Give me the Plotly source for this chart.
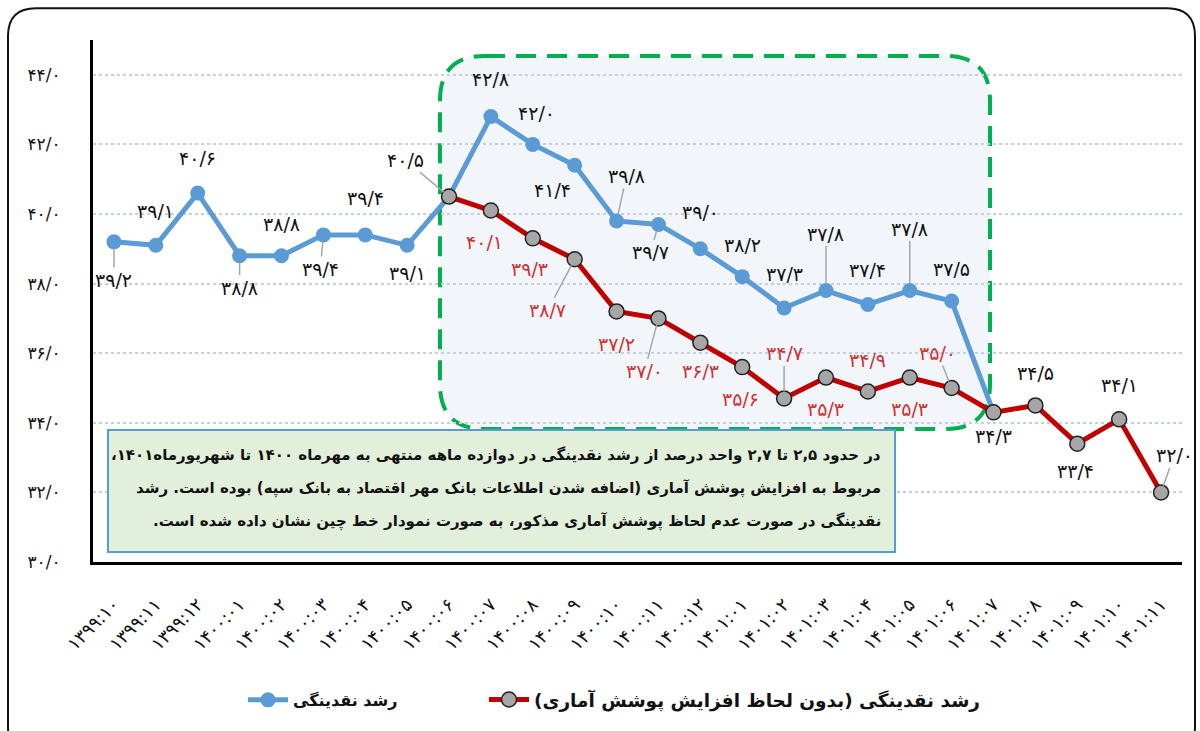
import plotly.graph_objects as go

# ---------------- data ----------------
categories = ["۱۳۹۹:۱۰", "۱۳۹۹:۱۱", "۱۳۹۹:۱۲",
              "۱۴۰۰:۰۱", "۱۴۰۰:۰۲", "۱۴۰۰:۰۳", "۱۴۰۰:۰۴", "۱۴۰۰:۰۵", "۱۴۰۰:۰۶",
              "۱۴۰۰:۰۷", "۱۴۰۰:۰۸", "۱۴۰۰:۰۹", "۱۴۰۰:۱۰", "۱۴۰۰:۱۱", "۱۴۰۰:۱۲",
              "۱۴۰۱:۰۱", "۱۴۰۱:۰۲", "۱۴۰۱:۰۳", "۱۴۰۱:۰۴", "۱۴۰۱:۰۵", "۱۴۰۱:۰۶",
              "۱۴۰۱:۰۷", "۱۴۰۱:۰۸", "۱۴۰۱:۰۹", "۱۴۰۱:۱۰", "۱۴۰۱:۱۱"]

blue_name = "رشد نقدینگی"
blue_values = [39.2, 39.1, 40.6, 38.8, 38.8, 39.4, 39.4, 39.1, 40.5, 42.8, 42.0,
               41.4, 39.8, 39.7, 39.0, 38.2, 37.3, 37.8, 37.4, 37.8, 37.5, 34.3]

red_name = "رشد نقدینگی (بدون لحاظ افزایش پوشش آماری)"
red_start = 8
red_values = [40.5, 40.1, 39.3, 38.7, 37.2, 37.0, 36.3, 35.6, 34.7, 35.3, 34.9,
              35.3, 35.0, 34.3, 34.5, 33.4, 34.1, 32.0]

y_ticks = [30, 32, 34, 36, 38, 40, 42, 44]

note_lines = [
    "در حدود ۲,۵ تا ۲,۷ واحد درصد از رشد نقدینگی در دوازده ماهه منتهی به مهرماه ۱۴۰۰ تا شهریورماه۱۴۰۱،",
    "مربوط به افزایش پوشش آماری (اضافه شدن اطلاعات بانک مهر اقتصاد به بانک سپه) بوده است. رشد",
    "نقدینگی در صورت عدم لحاظ پوشش آماری مذکور، به صورت نمودار خط چین نشان داده شده است.",
]

# label placement (pixel offsets from point, leader line flag) -- styling only
blue_label_pos = [(0, 38, True), (0, -34, False), (0, -35, False), (0, 32, True),
                  (0, -32, False), (-3, 34, True), (0, -37, False), (0, 28, False),
                  (-44, -37, True), (0, -38, False), (4, -31, False), (-22, 25, False),
                  (10, -45, True), (-8, 28, True), (0, -37, False), (0, -32, False),
                  (0, -34, False), (0, -57, True), (0, -34, False), (0, -62, True),
                  (0, -32, False)]
red_label_pos = [None, (-6, 31, False), (-3, 31, False), (-27, 51, True), (0, 33, False),
                 (-14, 53, True), (0, 28, False), (-2, 32, False), (0, -45, True),
                 (0, 31, False), (0, -31, False), (0, 31, False), (-14, -35, True),
                 (0, 24, False), (0, -32, False), (-2, 27, False), (0, -34, False),
                 (13, -37, True)]

# ---------------- helpers ----------------
FA_DIGITS = str.maketrans("0123456789", "۰۱۲۳۴۵۶۷۸۹")
RLE, PDF = "\u202b", "\u202c"


def fa_num(v):
    return f"{v:.1f}".replace(".", "/").translate(FA_DIGITS)


def rtl(s):
    return RLE + s + PDF


W, H = 1200, 731
ML, MR, MT, MB = 93, 18, 40, 165
PW, PH = W - ML - MR, H - MT - MB


def px(x):
    return (x - ML) / PW


def py(y):
    return (H - MB - y) / PH


def rrect(x0, y0, x1, y1, r):
    # pixel coords -> paper-coords rounded rectangle path
    X0, X1 = px(x0), px(x1)
    Yt, Yb = py(y0), py(y1)
    rx, ry = r / PW, r / PH
    return (f"M {X0+rx},{Yt} L {X1-rx},{Yt} Q {X1},{Yt} {X1},{Yt-ry} "
            f"L {X1},{Yb+ry} Q {X1},{Yb} {X1-rx},{Yb} L {X0+rx},{Yb} "
            f"Q {X0},{Yb} {X0},{Yb+ry} L {X0},{Yt-ry} Q {X0},{Yt} {X0+rx},{Yt} Z")


FONT = "DejaVu Sans"
BLUE = "#5b9bd5"
RED = "#c00000"
RED_LABEL = "#cc3333"

fig = go.Figure()

fig.add_trace(go.Scatter(
    x=categories[:len(blue_values)], y=blue_values, name="<b>" + rtl(blue_name) + "</b>",
    mode="lines+markers",
    line=dict(color=BLUE, width=5),
    marker=dict(color=BLUE, size=15),
    legend="legend",
))
fig.add_trace(go.Scatter(
    x=categories[red_start:red_start + len(red_values)], y=red_values,
    name="<b>" + rtl(red_name) + "</b>",
    mode="lines+markers",
    line=dict(color=RED, width=5),
    marker=dict(color="#a6a6a6", size=15, line=dict(color="#222222", width=1.5)),
    legend="legend2",
))

annotations = []


def add_label(xcat, yval, pos, color):
    dx, dy, leader = pos
    annotations.append(dict(
        x=xcat, y=yval, xref="x", yref="y", text=fa_num(yval),
        showarrow=True, ax=dx, ay=dy, arrowhead=0, arrowwidth=1.5,
        arrowcolor="#a6a6a6" if leader else "rgba(0,0,0,0)", standoff=7,
        font=dict(family=FONT, size=19, color=color),
    ))


for i, v in enumerate(blue_values):
    if i < len(blue_label_pos):
        add_label(categories[i], v, blue_label_pos[i], "#111111")

for j, v in enumerate(red_values):
    pos = red_label_pos[j]
    if pos is None:
        continue
    idx = red_start + j
    color = RED_LABEL if idx < len(blue_values) - 1 else "#111111"
    add_label(categories[idx], v, pos, color)

# note box text
for k, (line, ypx) in enumerate(zip(note_lines, [458, 492, 525])):
    annotations.append(dict(
        x=px(883), y=py(ypx), xref="paper", yref="paper", xanchor="right",
        yanchor="middle", showarrow=False, text="<b>" + rtl(line) + "</b>",
        font=dict(family=FONT, size=15, color="#111111"),
    ))

shapes = [
    # outer rounded frame
    dict(type="path", path=rrect(8, 8, 1195, 760, 28), xref="paper", yref="paper",
         line=dict(color="#111111", width=2), fillcolor="rgba(0,0,0,0)", layer="above"),
    # highlight region
    dict(type="path", path=rrect(440, 56, 990, 432, 45), xref="paper", yref="paper",
         line=dict(color="#00b050", width=4, dash="20px,11px"),
         fillcolor="#f2f6fb", layer="below"),
    # note box
    dict(type="rect", x0=px(108), x1=px(895), y0=py(556), y1=py(433),
         xref="paper", yref="paper", line=dict(color=BLUE, width=2),
         fillcolor="#e2efda", layer="above"),
]

fig.update_layout(
    width=W, height=H,
    margin=dict(l=ML, r=MR, t=MT, b=MB),
    paper_bgcolor="white", plot_bgcolor="rgba(0,0,0,0)",
    font=dict(family=FONT, color="#111111"),
    showlegend=True,
    legend=dict(orientation="h", x=px(243), y=py(705), xanchor="left", yanchor="middle",
                font=dict(family=FONT, size=16, color="#111111"),
                itemwidth=40, bgcolor="rgba(0,0,0,0)"),
    legend2=dict(orientation="h", x=px(484), y=py(705), xanchor="left", yanchor="middle",
                 font=dict(family=FONT, size=18.5, color="#111111"),
                 itemwidth=40, bgcolor="rgba(0,0,0,0)"),
    annotations=annotations,
    shapes=shapes,
    hovermode=False,
)

fig.update_xaxes(
    type="category", categoryorder="array", categoryarray=categories,
    range=[-0.5, len(categories) - 0.5],
    showline=True, linecolor="#000000", linewidth=3,
    showgrid=False, ticks="", tickangle=-45,
    tickfont=dict(family=FONT, size=18, color="#111111"),
    ticklabelstandoff=22,
)
fig.update_yaxes(
    range=[30, 45], tickvals=y_ticks, ticktext=[fa_num(t) for t in y_ticks],
    showline=True, linecolor="#000000", linewidth=3,
    showgrid=True, gridcolor="#c5cfdf", gridwidth=1.5, griddash="dot",
    zeroline=False, ticks="",
    tickfont=dict(family=FONT, size=17, color="#111111"),
    ticklabelstandoff=26,
)

fig.write_html("out.html", config={"displayModeBar": False},
               post_script="document.body.style.margin='0';document.body.style.overflow='hidden';")
